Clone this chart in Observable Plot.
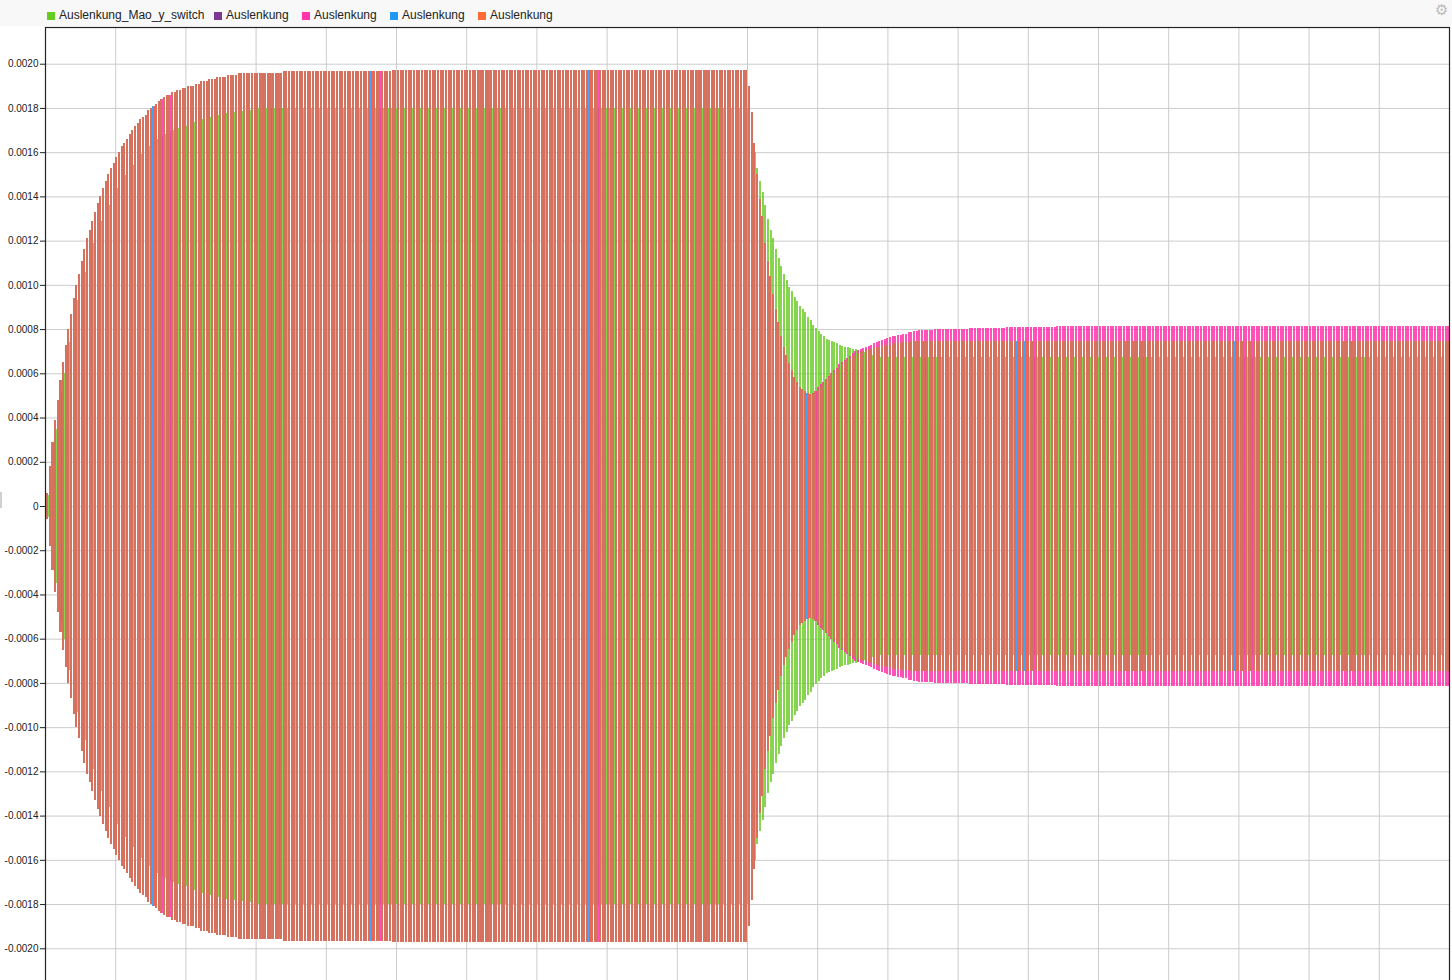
<!DOCTYPE html>
<html>
<head>
<meta charset="utf-8">
<script src="https://cdn.jsdelivr.net/npm/d3@7"></script>
<script src="https://cdn.jsdelivr.net/npm/@observablehq/plot@0.6"></script>
<style>
  html, body { margin: 0; padding: 0; background: #fff; overflow: hidden; }
  body { width: 1452px; height: 980px; position: relative; font-family: "Liberation Sans", Arial, sans-serif; }
  #legend { height: 26px; background: #f8f8f8; position: relative; font-size: 12px; color: #222; }
  .swatch { position: absolute; top: 12px; width: 8px; height: 8px; }
  .label { position: absolute; top: 8px; white-space: nowrap; line-height: 14px; }
  #gear { position: absolute; left: 1435px; top: 3px; font-family: "DejaVu Sans"; font-size: 15px; line-height: 15px; color: #bbb; }
  #handle { position: absolute; left: 0; top: 492px; width: 2px; height: 16px; background: #d0d0d0; }
  #chart svg { display: block; }
</style>
</head>
<body>
<div id="legend"><span id="gear">⚙</span></div>
<div id="chart"></div>
<div id="handle"></div>
<script>
// Envelope of each trace, one value per oscillation cycle, in units of 1e-4
const UNIT = 1e-4;
const N_CYCLES = 528;      // cycles across the 0..20 time axis
const SWITCH = 264;        // first cycle after the switch (t ~ 10)
const T0 = 0.024;          // time of the first cycle
const STEP = 0.03787;      // spacing of the cycles

// start-up of the four "Auslenkung" traces (they lie on top of each other)
const riseAmp = [
  0.6, 1.8, 2.9, 3.9, 4.8, 5.7, 6.5, 7.3, 8.0, 8.7,
  9.4, 10.0, 10.5, 11.1, 11.6, 12.1, 12.5, 12.9, 13.3, 13.7,
  14.0, 14.4, 14.7, 15.0, 15.3, 15.5, 15.8, 16.0, 16.3, 16.4,
  16.6, 16.8, 17.0, 17.2, 17.3, 17.5, 17.6, 17.7, 17.9, 18.0,
  18.1, 18.2, 18.3, 18.4, 18.5, 18.6, 18.6, 18.7, 18.7, 18.8,
  18.8, 18.9, 18.9, 19.0, 19.0, 19.0, 19.1, 19.1, 19.2, 19.2,
  19.2, 19.3, 19.3, 19.3, 19.4, 19.4, 19.4, 19.4, 19.5, 19.5,
  19.5, 19.5
];
// drop after the switch, down to the minimum
const decayAmp = [
  19.0, 17.8, 16.4, 15.0, 13.9, 13.1, 11.9, 11.1, 10.4, 9.6,
  8.9, 8.3, 7.7, 7.2, 6.85, 6.45, 6.15, 5.85, 5.6, 5.4,
  5.3, 5.2, 5.1, 5.05, 5.1, 5.2
];
const orangeTail = [
  5.3, 5.4, 5.55, 5.7, 5.85, 5.95, 6.05, 6.15, 6.25, 6.4,
  6.5, 6.6, 6.7, 6.8, 6.85, 6.9, 6.95, 7.0, 7.05, 7.1,
  7.1, 7.15, 7.2, 7.2, 7.25, 7.3, 7.3, 7.3, 7.35, 7.35,
  7.35, 7.4, 7.4, 7.4, 7.4
];
const pinkTail = [
  5.4, 5.5, 5.6, 5.75, 5.9, 6.0, 6.15, 6.25, 6.4, 6.5,
  6.6, 6.7, 6.8, 6.9, 7.0, 7.05, 7.1, 7.15, 7.2, 7.25,
  7.3, 7.35, 7.4, 7.45, 7.5, 7.55, 7.6, 7.65, 7.7, 7.7,
  7.75, 7.75, 7.8, 7.8, 7.85, 7.85, 7.9, 7.9
];
// Auslenkung_Mao_y_switch
const greenRise = [
  0.5, 1.6, 2.6, 3.5, 4.4, 5.2, 6.0, 6.7, 7.4, 8.1,
  8.7, 9.3, 9.9, 10.3, 10.6, 11.0, 11.5, 11.9, 12.3, 12.6,
  12.9, 13.1, 13.3, 13.6, 13.9, 14.1, 14.4, 14.6, 14.8, 14.95,
  15.1, 15.25, 15.4, 15.6, 15.75, 15.9, 16.1, 16.2, 16.3, 16.4,
  16.5, 16.6, 16.7, 16.75, 16.8, 16.9, 16.95, 17.0, 17.05, 17.1,
  17.15, 17.2, 17.2, 17.25, 17.3, 17.35, 17.4, 17.45, 17.5, 17.5,
  17.55, 17.6, 17.6, 17.65, 17.7, 17.7, 17.7, 17.75, 17.75, 17.8,
  17.8, 17.85, 17.85, 17.85, 17.9, 17.9, 17.9, 17.95
];
const greenDecay = [
  17.5, 16.7, 16.0, 15.3, 14.7, 14.2, 13.6, 13.0, 12.5, 12.1,
  11.6, 11.2, 10.85, 10.5, 10.2, 9.9, 9.7, 9.45, 9.25, 9.05,
  8.9, 8.75, 8.55, 8.4, 8.2, 8.05, 7.9, 7.8, 7.7, 7.55,
  7.5, 7.45, 7.4, 7.35, 7.3, 7.25, 7.2, 7.2, 7.15, 7.1,
  7.1, 7.05, 7.0, 6.95, 6.9, 6.9, 6.85, 6.8, 6.8
];

// literal value lists, plateaus held at the value
function envelope(parts) {
  const out = [];
  for (const p of parts) {
    if (Array.isArray(p)) out.push(...p);
    else while (out.length < p.to) out.push(p.hold);
  }
  return out;
}

const greenAmp = envelope([greenRise, {hold: 18.0, to: SWITCH}, greenDecay, {hold: 6.75, to: N_CYCLES}]);
const orangeAmp = envelope([riseAmp, {hold: 19.6, to: 89}, {hold: 19.65, to: 130}, {hold: 19.7, to: SWITCH},
  decayAmp, orangeTail, {hold: 7.45, to: N_CYCLES}]);
const pinkAmp = envelope([riseAmp, {hold: 19.6, to: 89}, {hold: 19.65, to: 130}, {hold: 19.7, to: SWITCH},
  decayAmp, pinkTail, {hold: 7.95, to: 334}, {hold: 8.0, to: 347}, {hold: 8.05, to: 361},
  {hold: 8.1, to: 380}, {hold: 8.15, to: N_CYCLES}]);
// purple and blue traces run underneath the orange one
const purpleAmp = orangeAmp;
const blueAmp = orangeAmp;

const seriesNames = ["Auslenkung_Mao_y_switch", "Auslenkung", "Auslenkung", "Auslenkung", "Auslenkung"];
const seriesColors = ["#66cc22", "#7d3795", "#ff33aa", "#2196f3", "#ff6a35"];
const seriesAmps = [greenAmp, purpleAmp, pinkAmp, blueAmp, orangeAmp];
const seriesShift = [0.0055, 0, 0.0004, -0.0004, 0];
const seriesOpacity = [0.8, 0.85, 0.85, 0.85, 0.78];

const yTicks = [-0.002, -0.0018, -0.0016, -0.0014, -0.0012, -0.001, -0.0008, -0.0006, -0.0004, -0.0002, 0,
  0.0002, 0.0004, 0.0006, 0.0008, 0.001, 0.0012, 0.0014, 0.0016, 0.0018, 0.002];
const xTicks = [0, 1, 2, 3, 4, 5, 6, 7, 8, 9, 10, 11, 12, 13, 14, 15, 16, 17, 18, 19, 20];

// legend
const legendX = [47, 214, 302, 390, 478];
const legend = document.getElementById('legend');
seriesNames.forEach((name, i) => {
  const sw = document.createElement('span');
  sw.className = 'swatch';
  sw.style.left = legendX[i] + 'px';
  sw.style.background = seriesColors[i];
  legend.appendChild(sw);
  const lb = document.createElement('span');
  lb.className = 'label';
  lb.style.left = (legendX[i] + 12) + 'px';
  lb.textContent = name;
  legend.appendChild(lb);
});

// one vertical stroke per cycle, from -amplitude to +amplitude
const traceMarks = seriesAmps.map((amps, k) => {
  const rows = amps.map((a, i) => ({t: T0 + i * STEP + seriesShift[k], amp: a * UNIT}));
  return Plot.ruleX(rows, {
    x: "t",
    y1: d => -d.amp,
    y2: "amp",
    stroke: seriesColors[k],
    strokeWidth: 2,
    strokeOpacity: seriesOpacity[k],
    shapeRendering: "crispEdges"
  });
});

const chart = Plot.plot({
  width: 1452,
  height: 990,
  marginTop: 1,
  marginLeft: 45,
  marginRight: 3,
  marginBottom: 31,
  style: {fontFamily: "'Liberation Sans', Arial, sans-serif", fontSize: "10px", color: "#222", background: "white"},
  x: {domain: [0, 20], axis: null},
  y: {domain: [-0.002166, 0.002166], axis: null},
  marks: [
    Plot.gridX(xTicks, {stroke: "#cccccc", strokeOpacity: 1}),
    Plot.gridY(yTicks, {stroke: "#cccccc", strokeOpacity: 1}),
    ...traceMarks,
    Plot.frame({stroke: "#222", strokeWidth: 1.2}),
    Plot.axisY(yTicks, {
      anchor: "left",
      tickSize: 5,
      tickPadding: 2,
      fontSize: 10,
      label: null,
      stroke: "#222",
      tickFormat: d => d === 0 ? "0" : d.toFixed(4)
    })
  ]
});

document.getElementById('chart').appendChild(chart);
</script>
</body>
</html>
